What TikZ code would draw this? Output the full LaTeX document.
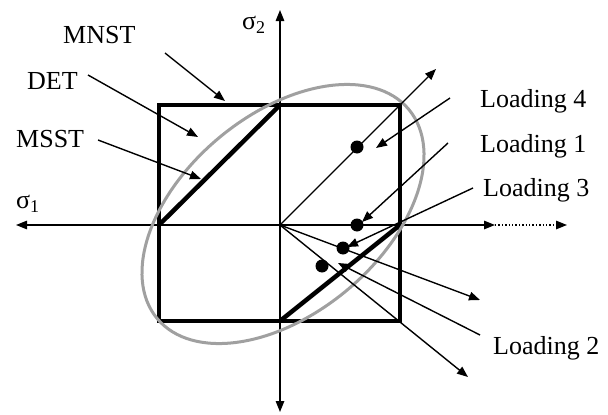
\documentclass[tikz,border=0pt]{standalone}
\usepackage{fontspec}
\setmainfont{Liberation Serif}
\usetikzlibrary{arrows.meta}
\definecolor{envgray}{RGB}{160,160,160}
\begin{document}
\begin{tikzpicture}[x=1pt,y=-1pt,
  thinline/.style={line width=1.4pt},
  tipped/.style={-{Triangle[length=11pt,width=8.5pt]}},
  frame/.style={line width=4.5pt},
  envelope/.style={draw=envgray, line width=3pt},
  dotmark/.style={circle,fill=black,inner sep=0pt,minimum size=13pt},
  lab/.style={inner sep=0pt,anchor=base west,font=\fontsize{26}{30}\selectfont},
  subs/.style={font=\fontsize{18}{18}\selectfont}]
\useasboundingbox (0,0) rectangle (608,415);

% key points
\coordinate (O) at (280,225);
\coordinate (xl) at (16,225);
\coordinate (xr) at (495,225);
\coordinate (xd) at (567,225);
\coordinate (yt) at (280,10);
\coordinate (yb) at (280,412);

\coordinate (A) at (159,105);
\coordinate (C) at (400,321);
\coordinate (ML) at (159,225);
\coordinate (MT) at (280,105);
\coordinate (MB) at (280,321);
\coordinate (MR) at (400,225);

% axes
\draw[thinline,tipped] (O) -- (xl);
\draw[thinline,tipped] (O) -- (xr);
\draw[thinline,tipped] (O) -- (yt);
\draw[thinline,tipped] (O) -- (yb);
\draw[line width=1.4pt,dotted,tipped] (xr) -- (xd);

% MNST square and MSST hexagon
\draw[frame] (A) rectangle (C);
\draw[frame] (ML) -- (MT);
\draw[frame] (MB) -- (MR);

% DET ellipse
\draw[envelope, rotate around={39.7:(283,214)}] (283,214) ellipse [x radius=163.6, y radius=99.5];

% loading paths
\coordinate (e4) at (436,69);
\coordinate (e3) at (480,300);
\coordinate (e2) at (468,377);
\draw[thinline,tipped] (O) -- (e4);
\draw[thinline,tipped] (O) -- (e3);
\draw[thinline,tipped] (O) -- (e2);

% points
\node[dotmark] (d4) at (357,147) {};
\node[dotmark] (d1) at (357,225) {};
\node[dotmark] (d3) at (343,248) {};
\node[dotmark] (d2) at (322,266) {};

% labels
\node[lab] (mnst) at (63,43) {MNST};
\node[lab] (det) at (27,89) {DET};
\node[lab] (msst) at (16,147) {MSST};
\node[lab] (s1) at (16,208) {σ\raisebox{-4pt}{\fontsize{18}{18}\selectfont 1}};
\node[lab] (s2) at (242,29) {σ\raisebox{-4pt}{\fontsize{18}{18}\selectfont 2}};
\node[lab] (l4) at (480,107) {Loading 4};
\node[lab] (l1) at (480,152) {Loading 1};
\node[lab] (l3) at (483,196) {Loading 3};
\node[lab] (l2) at (493,354) {Loading 2};

% pointers
\coordinate (pmnst) at (165,53);  \coordinate (tmnst) at (225,101);
\coordinate (pdet) at (88,75);    \coordinate (tdet) at (198,137);
\coordinate (pmsst) at (98,140);  \coordinate (tmsst) at (201,179);
\coordinate (pl4) at (450,98);    \coordinate (tl4) at (376,148);
\coordinate (pl1) at (448,143);   \coordinate (tl1) at (362,222);
\coordinate (pl3) at (473,188);   \coordinate (tl3) at (347,247);
\coordinate (pl2) at (480,335);   \coordinate (tl2) at (338,263);
\draw[thinline,tipped] (pmnst) -- (tmnst);
\draw[thinline,tipped] (pdet) -- (tdet);
\draw[thinline,tipped] (pmsst) -- (tmsst);
\draw[thinline,tipped] (pl4) -- (tl4);
\draw[thinline,tipped] (pl1) -- (tl1);
\draw[thinline,tipped] (pl3) -- (tl3);
\draw[thinline,tipped] (pl2) -- (tl2);
\end{tikzpicture}
\end{document}
